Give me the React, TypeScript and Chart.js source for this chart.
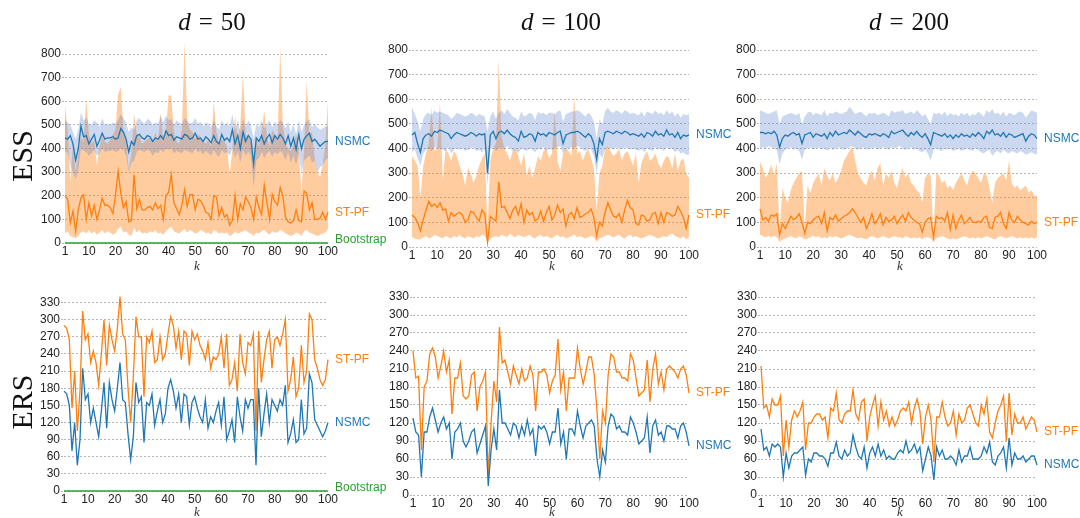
import React, { useEffect, useRef } from "react";
import { Chart, registerables } from "chart.js";
Chart.register(...registerables);

// ---------- categories & tick labels ----------
const K = Array.from({ length: 100 }, (_, i) => i + 1);
const K_TICKS = [1, 10, 20, 30, 40, 50, 60, 70, 80, 90, 100];
const ESS_TICKS = [0, 100, 200, 300, 400, 500, 600, 700, 800];
const ERS_TICKS = [0, 30, 60, 90, 120, 150, 180, 210, 240, 270, 300, 330];

// ---------- ESS, d = 50 ----------
const ESS50_NSMC = [
  445,440,455,420,350,400,495,450,455,420,
  440,460,410,435,465,440,445,445,450,440,
  445,485,470,440,385,430,415,455,460,445,
  440,455,450,430,445,440,455,440,475,455,
  460,435,450,445,440,460,455,440,445,465,
  440,445,430,450,440,425,455,430,420,460,
  435,445,430,480,420,455,400,470,430,455,
  440,335,445,430,455,420,445,460,425,455,
  440,460,445,420,455,410,445,395,460,400,
  440,455,465,430,440,425,410,420,430,430];
const ESS50_NSMC_LO = [
  390,380,330,300,270,310,400,390,385,370,
  380,395,370,380,400,385,390,390,395,385,
  390,400,395,370,300,340,350,385,395,390,
  385,395,390,370,385,380,395,385,400,395,
  400,380,390,385,380,395,390,385,380,400,
  385,390,375,390,380,370,395,375,365,395,
  380,385,370,400,360,390,340,395,370,385,
  370,235,350,360,385,360,380,390,365,385,
  375,390,380,350,385,340,370,330,380,300,
  350,360,370,340,350,300,320,330,350,360];
const ESS50_NSMC_HI = [
  520,510,500,470,440,480,555,520,530,505,
  500,520,510,490,530,500,505,500,510,505,
  520,545,530,510,470,490,480,520,530,515,
  505,525,520,500,510,505,540,510,540,520,
  525,500,520,510,505,530,520,505,510,530,
  505,515,495,510,505,490,520,495,480,520,
  500,510,495,545,480,520,470,530,490,520,
  500,440,505,490,520,485,505,520,490,515,
  500,520,510,485,515,470,505,460,520,470,
  500,515,525,490,505,490,480,485,495,495];
const ESS50_STPF = [
  200,185,85,135,50,140,190,205,100,170,
  115,160,100,140,190,160,160,150,125,200,
  305,210,150,175,90,95,290,145,185,140,
  140,150,155,140,170,145,160,100,200,215,
  290,170,145,120,160,225,155,205,205,140,
  185,180,160,130,125,100,200,195,115,150,
  110,120,75,95,200,100,165,140,195,175,
  150,100,195,150,120,245,170,100,205,175,
  160,235,200,110,90,85,95,140,95,90,
  220,210,140,170,100,100,105,130,100,130];
const ESS50_STPF_LO = [
  40,50,30,25,20,30,45,50,40,55,
  40,50,35,45,55,40,50,45,35,40,
  60,70,45,50,35,30,65,45,55,40,
  45,40,50,45,55,40,45,35,50,60,
  70,50,45,40,50,60,45,55,50,40,
  45,55,50,40,45,35,55,50,40,45,
  40,45,30,35,50,40,45,50,55,45,
  40,30,45,40,50,55,45,35,50,45,
  45,55,50,40,35,30,35,45,40,30,
  50,55,45,40,35,30,35,40,45,60];
const ESS50_STPF_HI = [
  585,480,260,420,300,380,450,430,610,460,
  420,440,330,410,450,430,420,440,460,480,
  630,660,480,440,310,380,550,460,450,420,
  430,440,450,420,470,430,550,430,480,625,
  625,470,430,420,480,850,520,480,470,440,
  460,450,430,420,440,410,600,470,420,440,
  430,410,290,400,540,430,500,720,460,450,
  430,330,440,410,470,560,450,410,480,460,
  430,830,500,420,400,390,420,460,400,210,
  400,690,460,470,360,300,280,330,420,600];
const BOOTSTRAP = [
  0,0,0,0,0,0,0,0,0,0, 0,0,0,0,0,0,0,0,0,0,
  0,0,0,0,0,0,0,0,0,0, 0,0,0,0,0,0,0,0,0,0,
  0,0,0,0,0,0,0,0,0,0, 0,0,0,0,0,0,0,0,0,0,
  0,0,0,0,0,0,0,0,0,0, 0,0,0,0,0,0,0,0,0,0,
  0,0,0,0,0,0,0,0,0,0, 0,0,0,0,0,0,0,0,0,0];

// ---------- ESS, d = 100 ----------
const ESS100_NSMC = [
  455,465,420,385,440,455,460,450,470,465,
  475,470,465,460,440,455,465,460,455,450,
  455,465,460,450,460,455,460,300,455,470,
  440,465,470,460,475,460,450,445,430,470,
  445,450,460,455,430,465,455,460,450,465,
  460,455,465,470,420,455,460,465,465,470,
  465,455,445,460,450,420,355,440,415,465,
  470,465,460,470,465,460,470,465,455,460,
  455,450,460,445,465,460,450,470,455,460,
  450,475,455,460,445,465,440,455,450,455];
const ESS100_NSMC_LO = [
  385,395,360,330,380,395,400,390,405,400,
  400,395,390,405,380,395,400,395,400,390,
  395,400,405,390,395,385,400,250,395,405,
  390,400,405,395,410,400,390,395,380,400,
  395,390,400,395,385,400,395,405,390,400,
  395,400,405,410,380,395,400,405,400,410,
  405,395,390,400,395,370,300,380,360,400,
  405,400,395,405,400,395,405,400,395,400,
  395,390,400,385,400,395,390,405,395,400,
  390,405,395,400,385,395,380,385,375,375];
const ESS100_NSMC_HI = [
  565,540,510,470,520,540,545,535,555,545,
  550,545,540,535,520,530,545,540,535,530,
  535,545,540,530,540,535,530,470,530,550,
  520,545,555,540,560,545,530,525,515,550,
  530,535,545,540,515,550,540,545,535,545,
  545,540,550,555,510,540,545,550,550,555,
  550,540,530,545,535,510,440,520,495,550,
  565,550,545,555,550,540,555,550,540,545,
  540,535,550,530,550,545,540,555,540,545,
  535,555,540,550,530,545,525,540,535,540];
const ESS100_STPF = [
  130,120,100,65,110,150,185,165,175,160,
  180,150,155,105,140,125,135,140,130,100,
  110,145,140,120,105,150,135,20,125,115,
  105,265,160,165,140,115,150,165,130,175,
  100,150,130,140,105,115,145,105,140,165,
  110,130,170,140,155,85,130,140,115,160,
  120,125,135,140,155,120,45,100,85,140,
  180,150,125,120,135,100,150,190,160,150,
  95,90,130,125,105,110,135,140,95,140,
  100,140,135,125,130,165,145,120,75,130];
const ESS100_STPF_LO = [
  40,35,30,30,40,45,35,40,50,45,
  40,35,45,40,35,45,40,50,40,35,
  45,40,35,45,40,50,45,15,35,40,
  45,40,50,45,40,55,45,40,50,45,
  40,45,50,40,35,45,50,40,45,40,
  35,45,50,40,45,35,40,45,50,40,
  45,40,35,40,45,40,20,35,40,45,
  50,45,40,45,50,40,35,45,50,40,
  45,40,35,40,45,50,45,40,35,40,
  45,40,50,55,45,40,35,45,30,40];
const ESS100_STPF_HI = [
  370,350,330,200,330,380,420,570,390,400,
  590,270,400,380,350,390,370,330,300,250,
  320,300,260,290,330,360,380,80,350,400,
  420,760,450,400,380,350,390,400,370,330,
  380,290,330,280,320,370,350,390,400,360,
  380,550,350,310,380,400,390,370,615,380,
  390,350,380,400,360,320,150,300,330,400,
  410,390,370,380,400,350,380,390,360,330,
  380,260,340,370,390,350,360,380,340,320,
  350,370,360,320,380,310,350,360,300,280];

// ---------- ESS, d = 200 ----------
const ESS200_NSMC = [
  465,465,460,465,460,470,455,405,440,455,
  450,460,465,455,460,420,455,460,465,445,
  460,455,450,460,440,465,450,470,455,460,
  465,460,475,465,455,470,460,450,445,460,
  455,460,455,450,460,455,445,470,460,465,
  470,475,460,450,465,455,470,455,445,460,
  440,415,465,460,455,450,460,445,455,440,
  455,445,460,450,455,445,460,450,465,455,
  440,470,460,475,455,460,450,465,445,460,
  455,445,450,455,460,430,450,460,455,440];
const ESS200_NSMC_LO = [
  400,405,400,410,405,400,395,335,380,395,
  400,405,395,400,390,355,395,400,405,395,
  400,405,395,400,390,405,395,400,405,400,
  395,400,405,410,400,395,400,405,395,400,
  400,405,395,400,405,400,395,405,400,405,
  410,400,395,400,405,395,400,390,385,395,
  380,350,395,400,395,390,400,395,400,390,
  395,400,390,395,400,395,390,400,395,385,
  380,390,395,370,385,390,380,395,385,380,
  390,385,380,390,385,375,380,385,380,375];
const ESS200_NSMC_HI = [
  555,550,545,540,545,550,555,500,530,535,
  540,545,540,535,545,500,530,545,550,535,
  545,540,535,555,530,545,540,550,545,540,
  545,550,570,555,540,545,550,540,530,545,
  540,545,535,540,545,540,530,555,545,550,
  550,555,540,545,550,540,555,545,530,540,
  520,500,545,540,545,535,550,530,545,535,
  540,530,545,535,545,530,540,535,550,540,
  530,555,545,560,540,545,535,550,530,545,
  540,535,545,550,545,525,540,555,550,545];
const ESS200_STPF = [
  155,110,120,105,130,125,135,50,95,75,
  100,125,110,120,135,100,55,100,95,110,
  120,125,95,140,65,120,110,130,105,115,
  125,130,140,155,140,120,100,120,75,100,
  135,95,110,135,90,120,105,110,125,95,
  115,130,105,140,120,110,100,95,60,100,
  115,120,40,125,115,120,105,140,70,130,
  75,110,130,95,105,120,100,100,105,100,
  120,125,80,75,120,125,140,95,75,140,
  110,100,125,110,100,95,90,105,95,100];
const ESS200_STPF_LO = [
  50,45,40,45,40,45,40,20,30,35,
  40,45,40,35,45,40,30,35,40,45,
  40,45,35,40,35,45,40,45,40,35,
  40,45,50,45,40,35,40,35,30,40,
  45,40,35,40,45,40,35,40,45,40,
  40,35,45,40,35,40,35,40,30,40,
  40,35,20,35,40,45,40,35,30,35,
  30,35,40,45,40,35,40,35,40,35,
  40,45,40,35,30,40,45,40,35,40,
  45,40,35,40,35,40,35,40,35,40];
const ESS200_STPF_HI = [
  345,320,280,300,335,290,340,60,240,200,
  180,230,260,280,300,310,80,250,220,260,
  280,300,250,320,290,270,300,260,280,310,
  350,370,390,410,350,300,280,260,250,290,
  310,270,320,340,250,300,280,310,260,240,
  290,320,280,300,260,250,230,220,180,280,
  300,290,50,300,290,260,270,240,250,230,
  260,280,300,270,250,290,310,300,280,260,
  300,290,240,180,260,280,290,300,270,350,
  260,240,250,230,240,250,220,230,210,205];

// ---------- ERS ----------
const ERS50_STPF = [
  290,285,265,145,210,105,175,315,265,275,
  225,245,225,185,240,300,220,290,265,245,
  285,340,275,265,180,120,200,305,270,270,
  165,270,260,280,225,230,270,230,240,275,
  305,290,250,280,230,280,275,220,280,265,
  275,255,245,230,260,215,235,230,240,270,
  215,275,185,195,225,175,275,225,205,260,
  255,275,105,280,190,230,265,280,215,265,
  270,255,275,300,175,195,235,165,180,255,
  190,210,310,300,230,215,195,185,195,230];
const ERS50_NSMC = [
  175,170,150,70,120,45,90,215,160,170,
  120,145,120,95,140,190,110,190,160,140,
  180,225,160,155,100,55,95,190,155,165,
  85,155,150,170,115,140,160,120,135,180,
  195,175,145,170,120,170,165,115,155,165,
  145,130,120,160,110,130,120,140,155,115,
  165,90,105,125,85,165,130,105,160,145,
  160,160,45,180,95,135,170,120,160,150,
  140,160,150,185,85,100,125,85,90,160,
  100,110,205,190,125,115,105,95,105,120];
const ERS100_STPF = [
  240,195,198,75,180,190,235,245,230,195,
  215,240,205,225,135,195,195,220,165,160,
  165,200,205,140,180,190,205,30,120,190,
  155,280,220,225,205,185,215,200,185,210,
  190,195,215,200,140,205,205,210,200,170,
  190,200,260,175,205,140,195,195,195,245,
  210,185,205,230,230,200,140,60,140,120,
  200,235,230,205,205,195,195,190,235,225,
  195,165,170,175,225,155,210,235,185,205,
  175,210,215,210,205,195,210,215,200,170];
const ERS100_NSMC = [
  128,105,100,30,105,105,130,145,125,105,
  120,130,110,120,60,105,110,120,90,80,
  90,105,110,70,85,100,115,15,75,110,
  75,175,120,120,110,100,120,115,95,115,
  100,125,100,110,65,115,110,115,105,85,
  105,105,145,85,105,60,110,110,100,140,
  115,95,115,120,125,115,60,30,75,55,
  115,135,130,110,115,105,105,100,130,120,
  105,85,90,95,130,70,115,125,100,105,
  90,115,115,110,110,95,115,120,105,82];
const ERS200_STPF = [
  215,145,150,130,160,150,150,165,65,125,
  80,125,140,130,140,155,75,120,120,130,
  135,135,125,130,95,145,140,170,125,120,
  135,140,140,175,135,125,155,160,90,130,
  150,165,115,155,125,140,115,130,115,125,
  140,145,140,155,120,145,160,140,85,130,
  150,125,55,130,130,155,130,115,120,140,
  100,135,120,125,145,150,135,120,115,150,
  135,160,105,95,120,140,150,165,90,170,
  100,135,120,120,130,110,120,130,125,105];
const ERS200_NSMC = [
  110,75,80,65,85,80,85,80,30,70,
  45,65,70,70,75,80,33,60,55,70,
  70,65,65,60,48,70,70,88,65,60,
  75,65,70,100,80,65,60,80,45,70,
  80,65,85,65,75,60,65,60,60,70,
  75,70,90,70,75,85,70,80,40,60,
  80,65,25,80,65,75,60,60,65,60,
  50,75,55,65,65,80,60,60,60,65,
  80,70,88,55,50,65,70,80,45,95,
  50,70,60,60,65,55,60,65,65,50];

// ---------- styling ----------
const ORANGE = "#ff7f0e";
const BLUE = "#1f77b4";
const GREEN = "#2ca02c";
const ORANGE_BAND = "rgba(255,127,14,0.4)";
const BLUE_BAND = "rgba(95,135,205,0.32)";
const SANS = '"Liberation Sans", Arial, Helvetica, sans-serif';

type LineSpec = { data: number[]; color: string; label: string; dy?: number; width?: number };
type BandSpec = { lo: number[]; hi: number[]; color: string; order: number };
type PanelSpec = {
  L: number; R: number; T: number; B: number;
  ymax: number; yticks: number[];
  bands: BandSpec[]; lines: LineSpec[];
};

const pts = (arr: number[]) => arr.map((v, i) => ({ x: K[i], y: v }));

const endLabels = {
  id: "endLabels",
  afterDatasetsDraw(chart: any) {
    const ctx = chart.ctx;
    chart.data.datasets.forEach((ds: any, i: number) => {
      if (!ds.endLabel) return;
      const meta = chart.getDatasetMeta(i);
      const last = meta.data[meta.data.length - 1];
      ctx.save();
      ctx.font = `12px ${SANS}`;
      ctx.fillStyle = ds.borderColor;
      ctx.textBaseline = "middle";
      ctx.textAlign = "left";
      ctx.fillText(ds.endLabel, chart.chartArea.right + 7, last.y + (ds.labelDy || 0));
      ctx.restore();
    });
  },
};

const PADL = 50, PADT = 10, PADR = 80, PADB = 20;

function Panel({ p }: { p: PanelSpec }) {
  const ref = useRef<HTMLCanvasElement>(null);
  const w = p.R - p.L + PADL + PADR;
  const h = p.B - p.T + PADT + PADB;
  useEffect(() => {
    if (!ref.current) return;
    const datasets: any[] = [];
    p.lines.forEach((ln) => {
      datasets.push({
        data: pts(ln.data), borderColor: ln.color, borderWidth: ln.width || 1.3,
        pointRadius: 0, fill: false, order: 0, tension: 0, clip: false,
        endLabel: ln.label, labelDy: ln.dy || 0,
      });
    });
    p.bands.forEach((b) => {
      datasets.push({ data: pts(b.lo), borderWidth: 0, borderColor: "rgba(0,0,0,0)", pointRadius: 0, fill: false, order: b.order });
      datasets.push({ data: pts(b.hi), borderWidth: 0, borderColor: "rgba(0,0,0,0)", pointRadius: 0, fill: "-1", backgroundColor: b.color, order: b.order });
    });
    const chart = new Chart(ref.current, {
      type: "line",
      data: { datasets },
      plugins: [endLabels],
      options: {
        animation: false,
        responsive: false,
        devicePixelRatio: 1,
        layout: { padding: { left: 0, top: PADT, right: PADR, bottom: 0 } },
        plugins: { legend: { display: false }, tooltip: { enabled: false } },
        scales: {
          x: {
            type: "linear", min: 1, max: 100,
            grid: { display: false, drawTicks: false },
            border: { display: false },
            ticks: { font: { size: 12, family: SANS }, color: "#222", padding: 1, maxRotation: 0, autoSkip: false },
            afterBuildTicks: (s: any) => { s.ticks = K_TICKS.map((v) => ({ value: v })); },
            afterFit: (s: any) => { s.height = PADB; },
          },
          y: {
            type: "linear", min: 0, max: p.ymax,
            grid: { color: "#b5b5b5", lineWidth: 1, drawTicks: true, tickLength: 3, tickColor: "#b5b5b5", tickBorderDash: [2, 2] },
            border: { display: false, dash: [2, 2] },
            ticks: { font: { size: 12, family: SANS }, color: "#222", padding: 1 },
            afterBuildTicks: (s: any) => { s.ticks = p.yticks.map((v) => ({ value: v })); },
            afterFit: (s: any) => { s.width = PADL; },
          },
        },
      } as any,
    });
    return () => chart.destroy();
  }, []);
  return (
    <canvas
      ref={ref}
      width={w}
      height={h}
      style={{ position: "absolute", left: p.L - PADL, top: p.T - PADT, width: w, height: h }}
    />
  );
}

const PANELS: PanelSpec[] = [
  {
    L: 65, R: 328, T: 40, B: 243, ymax: 860, yticks: ESS_TICKS,
    bands: [
      { lo: ESS50_STPF_LO, hi: ESS50_STPF_HI, color: ORANGE_BAND, order: 6 },
      { lo: ESS50_NSMC_LO, hi: ESS50_NSMC_HI, color: BLUE_BAND, order: 5 },
    ],
    lines: [
      { data: ESS50_NSMC, color: BLUE, label: "NSMC" },
      { data: ESS50_STPF, color: ORANGE, label: "ST-PF" },
      { data: BOOTSTRAP, color: GREEN, label: "Bootstrap", dy: -3, width: 1.6 },
    ],
  },
  {
    L: 412, R: 689, T: 50, B: 247, ymax: 800, yticks: ESS_TICKS,
    bands: [
      { lo: ESS100_STPF_LO, hi: ESS100_STPF_HI, color: ORANGE_BAND, order: 6 },
      { lo: ESS100_NSMC_LO, hi: ESS100_NSMC_HI, color: BLUE_BAND, order: 5 },
    ],
    lines: [
      { data: ESS100_NSMC, color: BLUE, label: "NSMC" },
      { data: ESS100_STPF, color: ORANGE, label: "ST-PF" },
    ],
  },
  {
    L: 760, R: 1037, T: 50, B: 247, ymax: 800, yticks: ESS_TICKS,
    bands: [
      { lo: ESS200_STPF_LO, hi: ESS200_STPF_HI, color: ORANGE_BAND, order: 6 },
      { lo: ESS200_NSMC_LO, hi: ESS200_NSMC_HI, color: BLUE_BAND, order: 5 },
    ],
    lines: [
      { data: ESS200_NSMC, color: BLUE, label: "NSMC" },
      { data: ESS200_STPF, color: ORANGE, label: "ST-PF" },
    ],
  },
  {
    L: 64, R: 328, T: 294, B: 491, ymax: 345, yticks: ERS_TICKS,
    bands: [],
    lines: [
      { data: ERS50_NSMC, color: BLUE, label: "NSMC" },
      { data: ERS50_STPF, color: ORANGE, label: "ST-PF" },
      { data: BOOTSTRAP, color: GREEN, label: "Bootstrap", dy: -3, width: 1.6 },
    ],
  },
  {
    L: 413, R: 689, T: 297, B: 495, ymax: 330, yticks: ERS_TICKS,
    bands: [],
    lines: [
      { data: ERS100_NSMC, color: BLUE, label: "NSMC" },
      { data: ERS100_STPF, color: ORANGE, label: "ST-PF" },
    ],
  },
  {
    L: 761, R: 1037, T: 297, B: 495, ymax: 330, yticks: ERS_TICKS,
    bands: [],
    lines: [
      { data: ERS200_NSMC, color: BLUE, label: "NSMC" },
      { data: ERS200_STPF, color: ORANGE, label: "ST-PF" },
    ],
  },
];

const SERIF = '"Liberation Serif", "Times New Roman", serif';

function Text({ x, y, children, style }: { x: number; y: number; children: any; style?: any }) {
  return (
    <div
      style={{
        position: "absolute", left: x, top: y, transform: "translate(-50%,-50%)",
        whiteSpace: "nowrap", lineHeight: 1, ...style,
      }}
    >
      {children}
    </div>
  );
}

function Title({ x, d }: { x: number; d: string }) {
  return (
    <Text x={x} y={21} style={{ fontFamily: SERIF, fontSize: 25, color: "#111" }}>
      <span style={{ fontStyle: "italic" }}>d</span>
      <span style={{ margin: "0 0.32em" }}>=</span>
      <span>{d}</span>
    </Text>
  );
}

export default function App() {
  useEffect(() => {
    document.body.style.margin = "0";
  }, []);
  return (
    <div style={{ position: "absolute", left: 0, top: 0, width: 1080, height: 518, background: "#fff", overflow: "hidden" }}>
      {PANELS.map((p, i) => <Panel key={i} p={p} />)}
      <Title x={212} d="50" />
      <Title x={561} d="100" />
      <Title x={909} d="200" />
      <Text x={22} y={156} style={{ fontFamily: SERIF, fontSize: 30, color: "#111", transform: "translate(-50%,-50%) rotate(-90deg)" }}>ESS</Text>
      <Text x={22} y={402} style={{ fontFamily: SERIF, fontSize: 30, color: "#111", transform: "translate(-50%,-50%) rotate(-90deg)" }}>ERS</Text>
      {[197, 552, 900].map((x, i) => (
        <Text key={"kt" + i} x={x} y={265} style={{ fontFamily: SERIF, fontStyle: "italic", fontSize: 13, color: "#333" }}>k</Text>
      ))}
      {[197, 552, 900].map((x, i) => (
        <Text key={"kb" + i} x={x} y={511} style={{ fontFamily: SERIF, fontStyle: "italic", fontSize: 13, color: "#333" }}>k</Text>
      ))}
    </div>
  );
}
